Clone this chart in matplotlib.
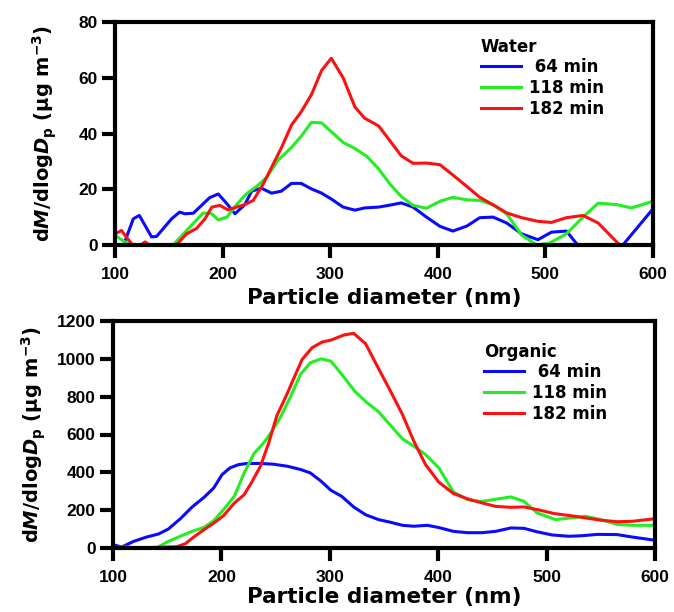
import matplotlib
matplotlib.use("Agg")
import matplotlib.pyplot as plt

plt.rcParams['font.family'] = ['Liberation Sans', 'DejaVu Sans']
plt.rcParams['font.weight'] = 'bold'
plt.rcParams['mathtext.fontset'] = 'custom'
plt.rcParams['mathtext.rm'] = 'DejaVu Sans:bold'
plt.rcParams['mathtext.it'] = 'DejaVu Sans:bold:italic'
plt.rcParams['mathtext.bf'] = 'DejaVu Sans:bold'

# ---------------- data: Water panel ----------------
water_64_x = [100, 108, 117, 122.6, 134, 138.7, 152.6, 160, 165, 172.8, 182, 188, 196, 204, 211.5,
              220.7, 227, 236, 245.5, 254.5, 264, 273, 282.7, 292, 301, 312, 323, 332, 345, 355.5,
              366, 377, 389.5, 402, 414, 427, 439, 451.4, 464, 478, 493, 505.6, 519.5, 530, 545,
              560, 572, 599.4]
water_64_y = [-4, 0, 9.4, 10.6, 2.9, 3.1, 9.4, 11.8, 11.2, 11.4, 14.8, 17, 18.3, 14.8, 11.2,
              14.5, 19.3, 20.4, 18.6, 19.3, 22.1, 22.1, 20.1, 18.6, 16.5, 13.6, 12.5, 13.3, 13.6, 14.3,
              15.1, 13.6, 10, 6.7, 5, 6.8, 9.8, 10, 7.9, 4, 1.9, 4.6, 5, 0, -5,
              -5, 0, 12.7]

water_118_x = [100, 108, 115, 125, 140, 154, 166.5, 182, 190, 196, 204, 213, 222, 231.6, 241,
               251.7, 264, 273.4, 282.6, 292, 300, 312, 323, 334, 345, 355.5, 366, 377, 389.5, 402,
               414, 427, 439, 451, 464, 478, 492, 504, 519.5, 535, 549, 566, 580, 599.4]
water_118_y = [3.5, 1.4, 0, -4, -4, 0, 5.2, 11.5, 11.2, 9, 10, 14.5, 18.3, 21, 24.3,
               30.5, 35, 39.2, 44, 43.8, 41, 36.8, 34.6, 31.8, 27.3, 21.9, 17.4, 14.2, 13.2, 15.7,
               17.1, 16.2, 16, 14.5, 11.2, 3.5, 0, 0.7, 4, 10, 15, 14.5, 13.3, 15.6]

water_182_x = [100, 106, 111, 116.5, 122, 128, 132, 145, 157, 166.5, 176, 183.6, 190, 197.5, 205,
               213, 220.7, 228.5, 237.8, 247, 254.8, 264, 273.4, 282.6, 292, 301, 312, 323, 332, 345,
               355.5, 366, 377, 389.5, 402, 414, 427, 439, 451, 464, 478, 493, 505.6, 519.5, 535,
               549, 569, 580, 590, 600]
water_182_y = [4, 5.2, 2.6, 0, -0.5, 1.1, 0, -5, 0, 4, 6, 9.4, 13.6, 14.2, 12.6,
               13.6, 14.5, 16, 21.9, 29, 35, 43, 48, 54, 62.6, 67, 60, 49.5, 45.5, 42.7,
               37.4, 32, 29.3, 29.4, 28.8, 25.1, 21, 17.1, 14.5, 11.5, 9.8, 8.5, 8.1, 9.8, 10.6,
               7.9, 0, -5, -4, 0]

# ---------------- data: Organic panel ----------------
org_64_x = [100, 108, 119, 131, 142, 151, 162, 173, 184, 193, 200.6, 208, 216, 224, 236, 248, 261,
            273, 282, 292, 301, 311, 322, 333, 345, 356, 367, 377.5, 390, 400.6, 414, 427, 440.6,
            453, 467, 479, 491, 505, 520.6, 533, 547, 565, 579, 600]
org_64_y = [18, 5, 35, 58, 74, 100, 154, 217, 268, 318, 388, 424, 441, 447, 447, 443, 432,
            415, 397, 353, 305, 273, 217, 176, 150, 136, 120, 115, 120, 108, 88, 81, 81,
            88, 106, 104, 86, 69, 62, 65, 72, 71, 58, 41]

org_118_x = [100, 112, 125, 140, 151, 162, 173, 184, 193, 202, 212, 221, 230, 239.5, 247, 255, 264,
             273, 282, 292, 301, 311, 323.7, 334.4, 345, 356, 367, 377.5, 388.3, 400.6, 414, 427,
             439, 451.4, 466.8, 479, 491.4, 508.3, 522, 536, 550, 565, 579, 600]
org_118_y = [-5, -5, -5, 0, 35, 62, 88, 109, 145, 203, 274, 397, 499, 559, 621, 697, 803,
             918, 979, 1000, 988, 918, 824, 768, 720, 648, 577, 538, 494, 424, 296, 256,
             245, 256, 270, 247, 185, 150, 159, 168, 150, 125, 120, 120]

org_182_x = [100, 104, 111, 119, 131, 144, 159, 166.8, 174.5, 184, 193, 202, 212, 221, 228, 236,
             243.7, 251, 261, 267, 274.5, 283.7, 293, 301, 313, 322, 333, 345, 356, 367, 377.5,
             388.3, 400.6, 414, 427, 440.6, 453, 467, 479, 491.4, 507, 522, 536, 550, 565, 579, 600]
org_182_y = [0, 5, 9, 0, 2, 4, 7, 23, 58, 97, 132, 171, 238, 282, 348, 432,
             556, 697, 820, 900, 997, 1059, 1089, 1099, 1126, 1135, 1080, 948, 829, 706, 565,
             441, 348, 288, 260, 238, 220, 215, 217, 203, 182, 171, 159, 147, 139, 141, 155]

labels = [' 64 min', '118 min', '182 min']
colors = ['#0a0aff', '#22ee22', '#ff1010']
x_ticks = [100, 200, 300, 400, 500, 600]
water_yticks = [0, 20, 40, 60, 80]
org_yticks = [0, 200, 400, 600, 800, 1000, 1200]

ylabel = 'd$M$/dlog$D_{\\mathrm{p}}$ (µg m$^{\\mathrm{-3}}$)'
BIG = ['DejaVu Sans']

fig = plt.figure(figsize=(6.74, 6.12), dpi=100)
ax1 = fig.add_axes([115/674, 1-245/612, 538/674, 223/612])
ax2 = fig.add_axes([113/674, 1-548/612, 542/674, 227/612])

def style(ax, yticks, title, series, lab_x, leg_anchor, xpad):
    for (xs, ys), lab, c in zip(series, labels, colors):
        ax.plot(xs, ys, color=c, lw=2.2, label=lab, solid_joinstyle='round')
    ax.set_xlim(100, 600)
    ax.set_ylim(yticks[0], yticks[-1])
    ax.set_xticks(x_ticks)
    ax.set_yticks(yticks)
    for s in ax.spines.values():
        s.set_linewidth(3)
    ax.tick_params(axis='both', direction='out', width=3, length=9.5, labelsize=12.5)
    ax.tick_params(axis='x', pad=6)
    ax.tick_params(axis='y', pad=3)
    for t in ax.get_xticklabels() + ax.get_yticklabels():
        t.set_fontweight('bold')
    ax.set_xlabel('Particle diameter (nm)', fontsize=15.5, fontweight='bold',
                  family=BIG, labelpad=xpad)
    ax.set_ylabel(ylabel, fontsize=14, fontweight='bold', family=BIG)
    ax.yaxis.set_label_coords(lab_x, 0.5)
    ax.legend(loc='upper left', bbox_to_anchor=leg_anchor, frameon=False,
              title=title, title_fontproperties={'weight': 'bold', 'size': 12, 'family': BIG},
              prop={'weight': 'bold', 'size': 12, 'family': BIG}, handlelength=2.4,
              handletextpad=0.5, labelspacing=0.16, borderpad=0, borderaxespad=0,
              alignment='left')

style(ax1, water_yticks, 'Water',
      [(water_64_x, water_64_y), (water_118_x, water_118_y), (water_182_x, water_182_y)],
      -0.105, (0.68, 0.93), 4.5)
style(ax2, org_yticks, 'Organic',
      [(org_64_x, org_64_y), (org_118_x, org_118_y), (org_182_x, org_182_y)],
      -0.12, (0.684, 0.905), 2)

fig.savefig('out.png', dpi=100)
